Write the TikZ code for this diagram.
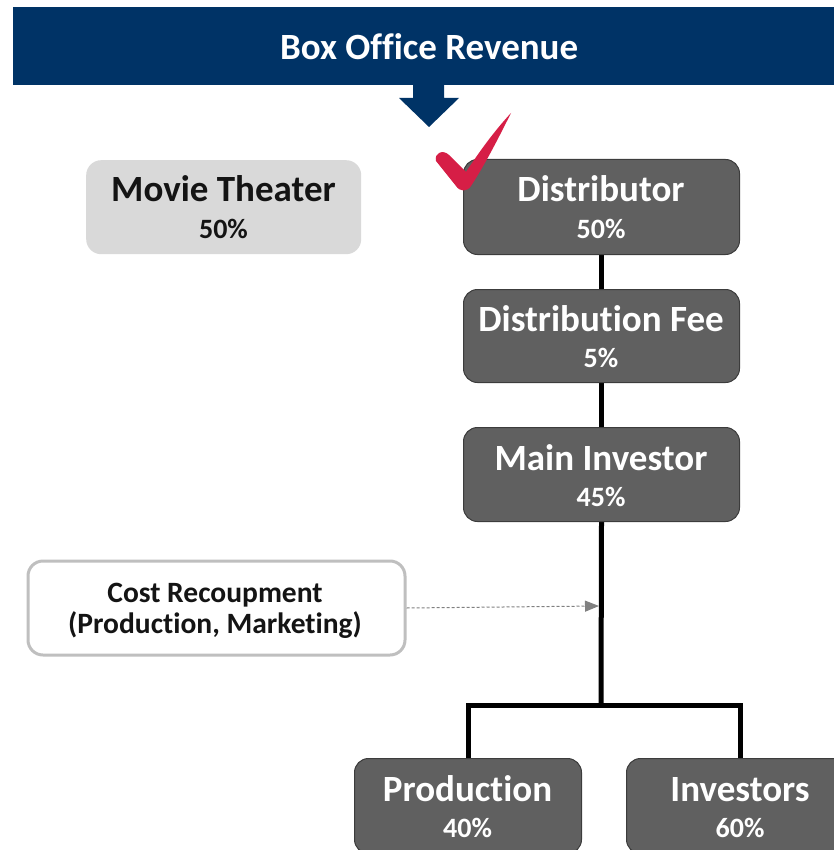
\documentclass[tikz,border=0pt]{standalone}
\usepackage{fontspec}
\setmainfont{Carlito}[Ligatures={NoCommon}]
\usetikzlibrary{arrows.meta}
\definecolor{navy}{RGB}{0,51,102}
\definecolor{boxgray}{RGB}{96,96,96}
\definecolor{boxedge}{RGB}{60,60,60}
\definecolor{lightbox}{RGB}{217,217,217}
\definecolor{checkred}{RGB}{214,30,70}
\definecolor{costedge}{RGB}{191,191,191}
\definecolor{dashgray}{RGB}{128,128,128}
\definecolor{darktext}{RGB}{20,20,20}
\pgfdeclarelayer{bg}
\pgfsetlayers{bg,main}
\begin{document}
\begin{tikzpicture}[x=1pt,y=-1pt,
  darkbox/.style={draw=boxedge,line width=1pt,fill=boxgray,rounded corners=14pt,
    minimum width=276pt,minimum height=95pt,inner sep=0pt,anchor=north west},
  lightbox/.style={fill=lightbox,rounded corners=15pt,
    minimum width=275pt,minimum height=94pt,inner sep=0pt,anchor=north west},
  costbox/.style={draw=costedge,line width=3pt,fill=white,rounded corners=15pt,
    minimum width=377pt,minimum height=94pt,inner sep=0pt,anchor=north west},
  titletxt/.style={font=\fontsize{37}{40}\selectfont\bfseries,text=white,anchor=base,inner sep=0pt},
  pcttxt/.style={font=\fontsize{28}{30}\selectfont\bfseries,text=white,anchor=base,inner sep=0pt},
  costtxt/.style={font=\fontsize{29.5}{32}\selectfont\bfseries,text=darktext,anchor=base,inner sep=0pt},
  conn/.style={line width=5pt,draw=black,line join=miter},
  dashconn/.style={draw=dashgray,line width=1pt,dash pattern=on 3pt off 2pt,
    -{Triangle[length=14pt,width=11pt,fill=dashgray]}}
]
\useasboundingbox (0,0) rectangle (833,850);

% banner
\node[fill=navy,minimum width=832pt,minimum height=78pt,inner sep=0pt,anchor=north west,
  font=\fontsize{37}{40}\selectfont\bfseries,text=white] (banner) at (13,7) {Box Office Revenue};
\fill[navy] (413,84) -- (444,84) -- (444,98) -- (459,98) -- (429,127) -- (399,98) -- (413,98) -- cycle;

% boxes
\node[lightbox] (theater) at (86,160) {};
\node[titletxt,text=darktext] (theaterT) at (223.5,202) {Movie Theater};
\node[pcttxt,text=darktext] (theaterP) at (223.5,238) {50\%};

\node[darkbox] (dist) at (463,159) {};
\node[titletxt] (distT) at (601,202) {Distributor};
\node[pcttxt] (distP) at (601,238) {50\%};

\node[darkbox,minimum height=93pt] (fee) at (463,289) {};
\node[titletxt] (feeT) at (601,331) {Distribution Fee};
\node[pcttxt] (feeP) at (601,367) {5\%};

\node[darkbox,minimum height=94pt] (main) at (463,427) {};
\node[titletxt] (mainT) at (601,470) {Main Investor};
\node[pcttxt] (mainP) at (601,506) {45\%};

\node[costbox] (cost) at (26.5,559.5) {};
\node[costtxt] (costA) at (215,602) {Cost Recoupment};
\node[costtxt] (costB) at (215,633) {(Production, Marketing)};

\node[darkbox,minimum width=227pt] (prod) at (354,758) {};
\node[titletxt] (prodT) at (467.5,801) {Production};
\node[pcttxt] (prodP) at (467.5,837) {40\%};

\node[darkbox,minimum width=228pt] (inv) at (626,758) {};
\node[titletxt] (invT) at (740,801) {Investors};
\node[pcttxt] (invP) at (740,837) {60\%};

\coordinate (split) at (601,705);
\coordinate (feed) at (599,606);

\begin{pgfonlayer}{bg}
  \draw[conn] (dist.south) -- (main.north);
  \draw[conn] (main.south) -- (split);
  \draw[conn] (prod.north) |- (split) -| (inv.north);
\end{pgfonlayer}

\draw[dashconn] (cost.east) -- (feed);

% check mark
\fill[checkred] (436,161) .. controls (434,153) and (443,149) .. (449,155)
  -- (466,172) .. controls (483,146) and (498,127) .. (511,113)
  .. controls (501,133) and (486,163) .. (471,186)
  .. controls (467,192) and (460,192) .. (456,186) -- cycle;
\end{tikzpicture}
\end{document}
